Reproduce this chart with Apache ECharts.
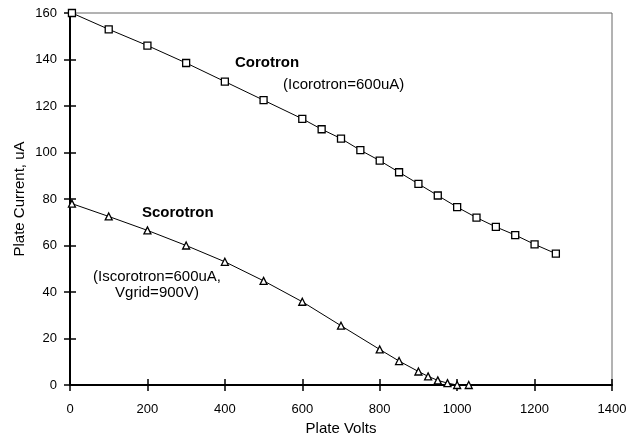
<!DOCTYPE html>
<html>
<head>
<meta charset="utf-8">
<script src="https://cdn.jsdelivr.net/npm/echarts@6/dist/echarts.min.js"></script>
<style>
  html, body { margin: 0; padding: 0; background: #fff; }
  #chart { width: 636px; height: 434px; }
</style>
</head>
<body>
<div id="chart"></div>
<script>
// plate volts / plate current (uA)
const corotronVolts = [5, 100, 200, 300, 400, 500, 600, 650, 700, 750, 800, 850, 900, 950, 1000, 1050, 1100, 1150, 1200, 1255]
const corotronCurrent = [160, 153, 146, 138.5, 130.5, 122.5, 114.5, 110, 106, 101, 96.5, 91.5, 86.5, 81.5, 76.5, 72, 68, 64.5, 60.5, 56.5]

const scorotronVolts = [5, 100, 200, 300, 400, 500, 600, 700, 800, 850, 900, 925, 950, 975, 1000, 1030]
const scorotronCurrent = [78, 72.5, 66.5, 60, 53, 44.8, 35.8, 25.5, 15.3, 10.3, 5.8, 3.7, 2, 0.8, 0, 0]

const FONT = '"Liberation Sans", Arial, sans-serif'

const chart = echarts.init(document.getElementById('chart'))

const pairs = (xs, ys) => xs.map((x, i) => [x, ys[i]])
const plain = v => String(v)

const tick = inside => ({ inside, length: 6, lineStyle: { color: '#000', width: 1.5 } })
const xBase = { type: 'value', min: 0, max: 1400, interval: 200, position: 'bottom', splitLine: { show: false } }
const yBase = { type: 'value', min: 0, max: 160, interval: 20, position: 'left', splitLine: { show: false } }

chart.setOption({
  animation: false,
  grid: {
    left: 70, right: 24, top: 13, bottom: 49,
    outerBoundsMode: 'none',
    show: true, borderColor: '#666', borderWidth: 1
  },
  xAxis: [
    {
      ...xBase,
      name: 'Plate Volts',
      nameLocation: 'middle',
      nameGap: 36,
      nameMoveOverlap: false,
      nameTextStyle: { color: '#000', fontSize: 15, fontFamily: FONT },
      axisLine: { lineStyle: { color: '#000', width: 2 } },
      axisTick: tick(false),
      axisLabel: { color: '#000', fontSize: 13, fontFamily: FONT, margin: 18, formatter: plain }
    },
    {
      ...xBase,
      axisLine: { show: false },
      axisTick: tick(true),
      axisLabel: { show: false }
    }
  ],
  yAxis: [
    {
      ...yBase,
      name: 'Plate Current, uA',
      nameLocation: 'middle',
      nameGap: 43,
      nameMoveOverlap: false,
      nameTextStyle: { color: '#000', fontSize: 15, fontFamily: FONT },
      axisLine: { lineStyle: { color: '#000', width: 2 } },
      axisTick: tick(false),
      axisLabel: { color: '#000', fontSize: 13, fontFamily: FONT, margin: 13, formatter: plain }
    },
    {
      ...yBase,
      axisLine: { show: false },
      axisTick: tick(true),
      axisLabel: { show: false }
    }
  ],
  series: [
    {
      name: 'Corotron',
      type: 'line',
      data: pairs(corotronVolts, corotronCurrent),
      symbol: 'rect',
      symbolSize: 7,
      lineStyle: { color: '#000', width: 1 },
      itemStyle: { color: '#fff', borderColor: '#000', borderWidth: 1.3 },
      z: 5
    },
    {
      name: 'Scorotron',
      type: 'line',
      data: pairs(scorotronVolts, scorotronCurrent),
      symbol: 'triangle',
      symbolSize: 7,
      lineStyle: { color: '#000', width: 1 },
      itemStyle: { color: '#fff', borderColor: '#000', borderWidth: 1.3 },
      z: 5
    }
  ],
  graphic: [
    { type: 'text', x: 235, y: 63, style: { text: 'Corotron', font: 'bold 15px ' + FONT, fill: '#000', verticalAlign: 'middle' } },
    { type: 'text', x: 283, y: 85, style: { text: '(Icorotron=600uA)', font: '15px ' + FONT, fill: '#000', verticalAlign: 'middle' } },
    { type: 'text', x: 142, y: 213, style: { text: 'Scorotron', font: 'bold 15px ' + FONT, fill: '#000', verticalAlign: 'middle' } },
    {
      type: 'text', x: 157, y: 285,
      style: { text: '(Iscorotron=600uA,\nVgrid=900V)', font: '15px ' + FONT, fill: '#000', align: 'center', verticalAlign: 'middle', lineHeight: 16 }
    }
  ]
})
</script>
</body>
</html>
